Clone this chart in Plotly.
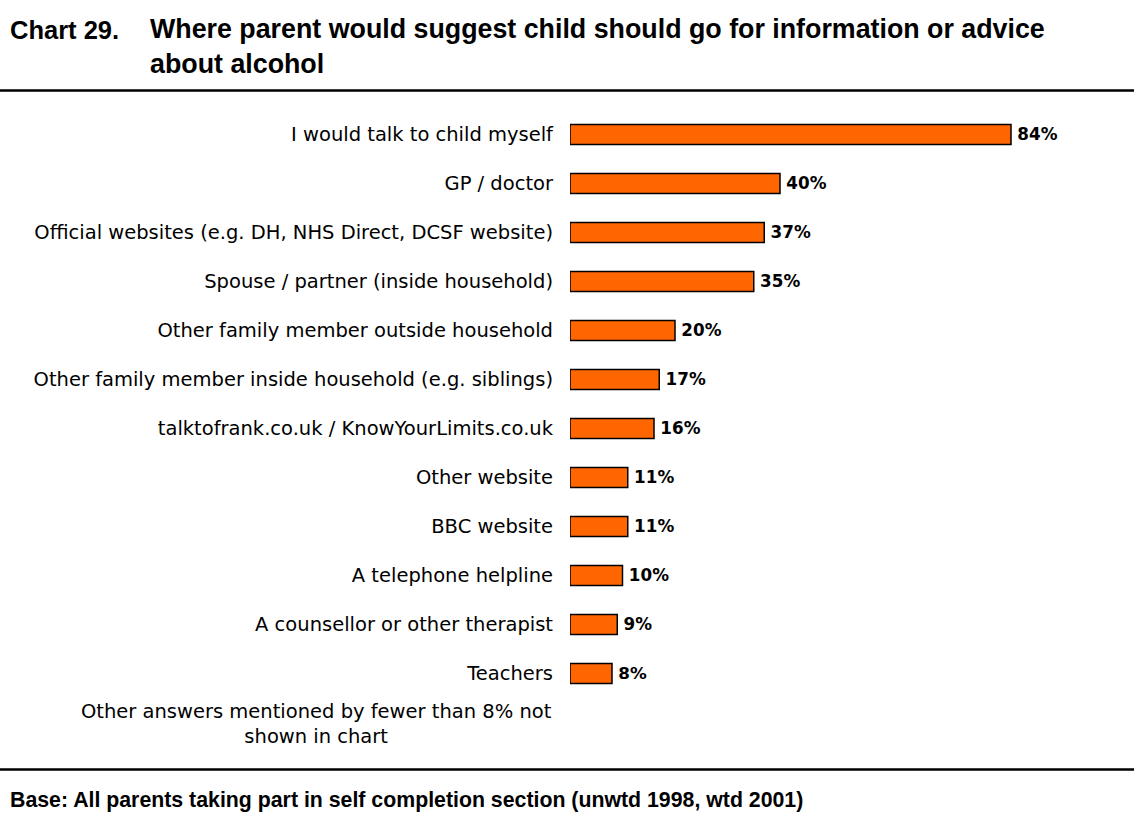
import plotly.graph_objects as go

categories = [
    "I would talk to child myself",
    "GP / doctor",
    "Official websites (e.g. DH, NHS Direct, DCSF website)",
    "Spouse / partner (inside household)",
    "Other family member outside household",
    "Other family member inside household (e.g. siblings)",
    "talktofrank.co.uk / KnowYourLimits.co.uk",
    "Other website",
    "BBC website",
    "A telephone helpline",
    "A counsellor or other therapist",
    "Teachers",
]
values = [84, 40, 37, 35, 20, 17, 16, 11, 11, 10, 9, 8]

W, H = 1134, 829
L, R, T, B = 570, 0, 109.5, 130.5
PW, PH = W - L - R, H - T - B


def px(x):
    return (x - L) / PW


def py(y):
    return (H - B - y) / PH


fig = go.Figure(
    go.Bar(
        x=values,
        y=categories,
        orientation="h",
        width=0.41,
        marker=dict(color="#FF6600", line=dict(color="#000000", width=1.5)),
        texttemplate="\u2009%{x}%",
        textposition="outside",
        cliponaxis=False,
        textfont=dict(family="DejaVu Sans", size=20, color="#000000", weight="bold"),
        hoverinfo="skip",
    )
)

annotations = [
    dict(text="<b>Chart 29.</b>", x=px(8), y=py(29), xanchor="left", yanchor="middle",
         font=dict(family="Liberation Sans", size=25.5, color="#000000")),
    dict(text="<b>Where parent would suggest child should go for information or advice"
              "<br>about alcohol</b>",
         x=px(148), y=py(45.5), xanchor="left", yanchor="middle", align="left",
         font=dict(family="Liberation Sans", size=26.8, color="#000000")),
    dict(text="Other answers mentioned by fewer than 8% not<br>shown in chart",
         x=px(554), y=py(725), xanchor="right", yanchor="middle", align="center",
         font=dict(family="DejaVu Sans", size=19.5, color="#000000")),
    dict(text="<b>Base: All parents taking part in self completion section (unwtd 1998, wtd 2001)</b>",
         x=px(8), y=py(801), xanchor="left", yanchor="middle",
         font=dict(family="Liberation Sans", size=21.3, color="#000000")),
]
for a in annotations:
    a.update(xref="paper", yref="paper", showarrow=False)

shapes = [
    dict(type="line", xref="paper", yref="paper", x0=px(0), x1=px(W), y0=py(90), y1=py(90),
         line=dict(color="#000000", width=2.5)),
    dict(type="line", xref="paper", yref="paper", x0=px(0), x1=px(W), y0=py(770), y1=py(770),
         line=dict(color="#000000", width=2.5)),
]

fig.update_layout(
    width=W,
    height=H,
    margin=dict(l=L, r=R, t=T, b=B, pad=0),
    plot_bgcolor="#FFFFFF",
    paper_bgcolor="#FFFFFF",
    showlegend=False,
    annotations=annotations,
    shapes=shapes,
    xaxis=dict(range=[0, PW / 5.25], visible=False, fixedrange=True),
    yaxis=dict(
        autorange="reversed",
        showgrid=False,
        zeroline=False,
        showline=False,
        ticks="",
        ticklabelstandoff=16,
        tickfont=dict(family="DejaVu Sans", size=19.5, color="#000000"),
        fixedrange=True,
    ),
)

fig.write_html("out.html", config={"displayModeBar": False})
